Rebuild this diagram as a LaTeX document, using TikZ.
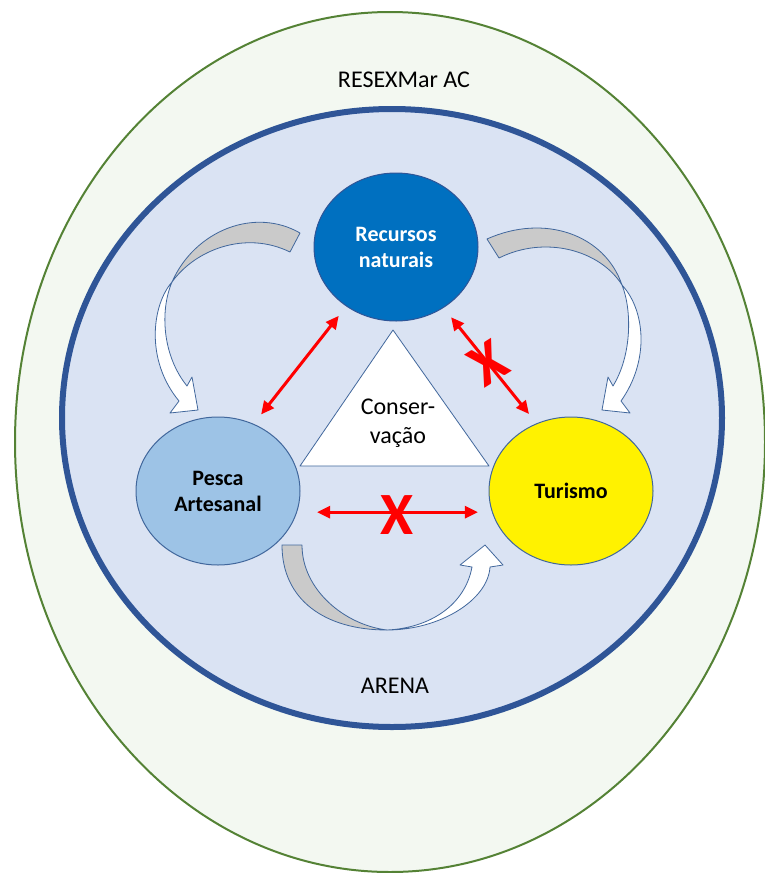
\documentclass[tikz,border=0pt]{standalone}
\usepackage{fontspec}
\setmainfont{Carlito}
\usetikzlibrary{arrows.meta,shapes.geometric}

\definecolor{resexfill}{HTML}{F3F8F1}
\definecolor{resexline}{HTML}{548235}
\definecolor{arenafill}{HTML}{DAE3F3}
\definecolor{arenaline}{HTML}{2F5597}
\definecolor{edgeblue}{HTML}{41679C}
\definecolor{recblue}{HTML}{0070C0}
\definecolor{pescablue}{HTML}{9DC3E6}
\definecolor{bandgray}{HTML}{CACACA}

\begin{document}
\begin{tikzpicture}[
        x=1pt, y=-1pt,
        >={Triangle[length=13pt,width=12pt]},
        actor/.style={ellipse, draw=edgeblue, line width=1pt, minimum width=164pt,
            minimum height=148pt, inner sep=0pt, align=center,
            font=\fontsize{22}{26}\selectfont\bfseries},
        band/.style={draw=edgeblue, line width=0.8pt, line join=round},
        link/.style={red, line width=3pt, <->, shorten <=12pt, shorten >=12pt},
        cross/.style={red, inner sep=0pt, font=\fontsize{60}{60}\selectfont\bfseries},
        label/.style={font=\fontsize{24}{29}\selectfont, align=center}
        ]
            \useasboundingbox (0, 0) rectangle (765, 873);
            % RESEXMar and arena
            \draw[resexline, fill=resexfill, line width=2pt] (390, 442) ellipse [x radius=375, y radius=430];
            \draw[arenaline, fill=arenafill, line width=6pt] (392, 418) ellipse [x radius=330, y radius=309];
            \node[label] (resex) at (404, 80) {RESEXMar AC};
            \node[label] (arena) at (395, 686) {ARENA};
            
            % curved arrows, top left
            \draw[band, fill=bandgray] (300, 233) .. controls (255, 207) and (195, 230) .. (172, 282)
                .. controls (195, 250) and (245, 230) .. (290, 252) -- cycle;
            \draw[band, fill=white] (172, 282) .. controls (152, 305) and (145, 360) .. (179, 401)
                -- (170, 413) -- (198, 410) -- (192, 377) -- (187, 386)
                .. controls (162, 355) and (160, 310) .. (172, 282) -- cycle;
            
            % top right
            \draw[band, fill=bandgray] (487, 239) .. controls (545, 213) and (605, 235) .. (622, 285)
                .. controls (600, 250) and (545, 235) .. (499, 258) -- cycle;
            \draw[band, fill=white] (622, 285) .. controls (645, 310) and (650, 360) .. (621, 401)
                -- (630, 413) -- (602, 410) -- (608, 377) -- (613, 386)
                .. controls (632, 355) and (632, 310) .. (622, 285) -- cycle;
            
            % bottom
            \draw[band, fill=bandgray] (282, 545) -- (302, 545) .. controls (302, 590) and (345, 625) .. (387, 630)
                .. controls (325, 630) and (282, 600) .. (282, 545) -- cycle;
            \draw[band, fill=white] (387, 630) .. controls (440, 630) and (488, 600) .. (490, 567)
                -- (503, 565) -- (485, 545) -- (460, 565) -- (472, 567)
                .. controls (465, 605) and (430, 628) .. (387, 630) -- cycle;
            
            % conservation triangle
            \draw[band, fill=white] (393, 330) -- (489, 466) -- (300, 466) -- cycle;
            \node[label] (cons) at (398, 423) {Conser-\\vação};
            
            \node[actor, fill=recblue, draw=arenaline, text=white] (rn) at (396, 247) {Recursos\\naturais};
            \node[actor, fill=pescablue] (pa) at (218, 491) {Pesca\\Artesanal};
            \node[actor, fill=yellow] (tu) at (571, 491) {Turismo};
            
            \draw[link] (rn.230) -- (pa.62);
            \draw[link] (rn.308.7) -- (tu.117.8);
            \draw[link, shorten <=20pt, shorten >=14pt] (pa.-15) -- (tu.195);
            
            \node[cross, rotate=32] (x1) at (488, 363) {X};
            \node[cross] (x2) at (397, 515) {X};
        \end{tikzpicture}
\end{document}
